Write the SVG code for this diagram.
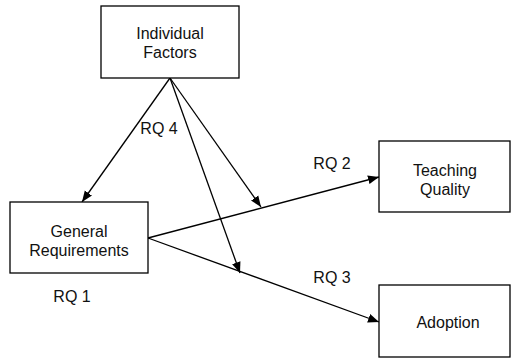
<svg xmlns="http://www.w3.org/2000/svg" width="512" height="358" viewBox="0 0 512 358">
<style>
.box{fill:#fff;stroke:#000;stroke-width:1.3}
.t{font-family:"Liberation Sans",Arial,sans-serif;font-size:16px;fill:#111;text-anchor:middle}
.c{stroke:#000;stroke-width:1.3;fill:none;marker-end:url(#ah)}
</style>
<defs>
<marker id="ah" viewBox="0 0 10 10" refX="10" refY="5" markerWidth="11" markerHeight="11" markerUnits="userSpaceOnUse" orient="auto">
<path d="M0,1 L10,5 L0,9 Z" fill="#000"/>
</marker>
</defs>
<rect width="512" height="358" fill="#fff"/>
<g id="connectors">
<line class="c" x1="170" y1="78" x2="82" y2="202"/>
<line class="c" x1="170" y1="78" x2="261" y2="207"/>
<line class="c" x1="170" y1="78" x2="240" y2="273"/>
<line class="c" x1="148" y1="238" x2="379" y2="177"/>
<line class="c" x1="148" y1="238" x2="379" y2="322"/>
</g>
<g id="individual-factors">
<rect class="box" x="101" y="6" width="138" height="72"/>
<text class="t" x="170" y="39">Individual</text>
<text class="t" x="170" y="58">Factors</text>
</g>
<g id="general-requirements">
<rect class="box" x="10" y="202" width="138" height="71"/>
<text class="t" x="79" y="237">General</text>
<text class="t" x="79" y="256">Requirements</text>
</g>
<g id="teaching-quality">
<rect class="box" x="379" y="141" width="131" height="71"/>
<text class="t" x="445" y="176">Teaching</text>
<text class="t" x="445" y="195">Quality</text>
</g>
<g id="adoption">
<rect class="box" x="379" y="285" width="131" height="72"/>
<text class="t" x="448" y="328">Adoption</text>
</g>
<g id="labels">
<text class="t" x="159" y="134">RQ 4</text>
<text class="t" x="332" y="169">RQ 2</text>
<text class="t" x="332" y="283">RQ 3</text>
<text class="t" x="72" y="302">RQ 1</text>
</g>
</svg>
